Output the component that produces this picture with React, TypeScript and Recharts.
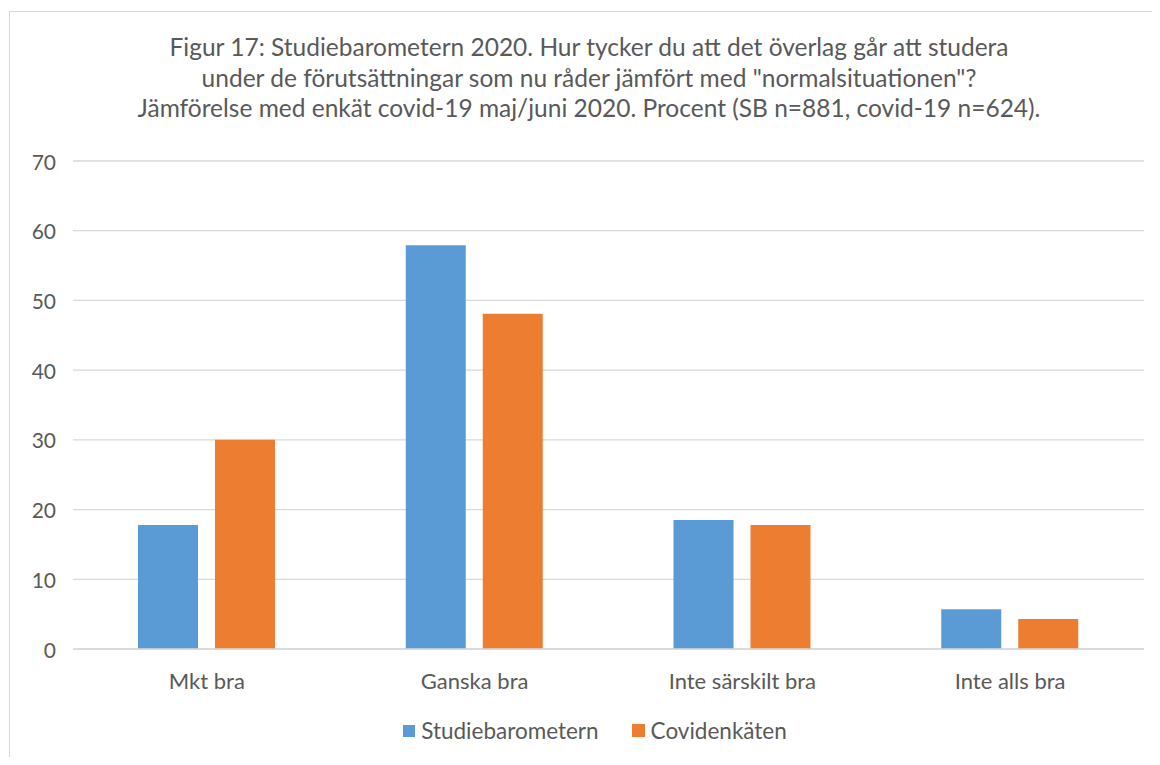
import { Bar, BarChart, CartesianGrid, XAxis, YAxis } from "recharts";

const categories = ["Mkt bra", "Ganska bra", "Inte särskilt bra", "Inte alls bra"];
const studiebarometern = [17.8, 57.9, 18.5, 5.7];
const covidenkaten = [30.0, 48.1, 17.8, 4.3];
const yTicks = [0, 10, 20, 30, 40, 50, 60, 70];

const titleLines = [
  "Figur 17: Studiebarometern 2020. Hur tycker du att det överlag går att studera",
  'under de förutsättningar som nu råder jämfört med "normalsituationen"?',
  "Jämförelse med enkät covid-19 maj/juni 2020. Procent (SB n=881, covid-19 n=624).",
];

const data = categories.map((name, i) => ({
  name,
  sb: studiebarometern[i],
  covid: covidenkaten[i],
}));

const FONT = "Lato, sans-serif";
const TEXT = "#595959";
const BLUE = "#5B9BD5";
const ORANGE = "#ED7D31";

// y tick label, right-aligned a little left of the plot
function YTick(props: any) {
  const { x, y, payload } = props;
  return (
    <text x={x} y={y} dx={6} textAnchor="end" dominantBaseline="central" fill={TEXT} fontSize={21} fontFamily={FONT}>
      {payload.value}
    </text>
  );
}

export default function App() {
  return (
    <div style={{ position: "relative", width: 1160, height: 765, margin: -8, background: "#fff", overflow: "hidden", fontFamily: FONT }}>
      <div
        style={{
          position: "absolute",
          left: 9,
          top: 11,
          width: 1170,
          height: 800,
          border: "1px solid #d9d9d9",
          boxSizing: "border-box",
        }}
      />
      <div
        style={{
          position: "absolute",
          left: 0,
          width: 1178,
          top: 32,
          textAlign: "center",
          color: TEXT,
          fontSize: 24.5,
          lineHeight: "30.5px",
        }}
      >
        {titleLines.map((t) => (
          <div key={t}>{t}</div>
        ))}
      </div>
      <div style={{ position: "absolute", left: 0, top: 0 }}>
        <BarChart
          width={1160}
          height={765}
          data={data}
          margin={{ top: 161, right: 16, bottom: 86, left: 0 }}
          barSize={60}
          barGap={17}
        >
          <CartesianGrid vertical={false} stroke="#d9d9d9" strokeWidth={1.3} />
          <XAxis
            dataKey="name"
            height={30}
            axisLine={{ stroke: "#d9d9d9", strokeWidth: 1.5 }}
            tickLine={false}
            tickMargin={18}
            tick={{ fill: TEXT, fontSize: 22, fontFamily: FONT }}
          />
          <YAxis
            width={73}
            domain={[0, 70]}
            ticks={yTicks}
            axisLine={false}
            tickLine={false}
            tickSize={0}
            tickMargin={23}
            tick={<YTick />}
          />
          <Bar dataKey="sb" name="Studiebarometern" fill={BLUE} isAnimationActive={false} />
          <Bar dataKey="covid" name="Covidenkäten" fill={ORANGE} isAnimationActive={false} />
        </BarChart>
      </div>
      <div
        style={{
          position: "absolute",
          top: 717,
          left: 0,
          width: 1160,
          display: "flex",
          justifyContent: "center",
          paddingLeft: 30,
          boxSizing: "border-box",
          color: TEXT,
          fontSize: 22.5,
          alignItems: "center",
        }}
      >
        <span style={{ width: 12, height: 12, background: BLUE, display: "inline-block", marginRight: 6 }} />
        <span>Studiebarometern</span>
        <span style={{ width: 13, height: 13, background: ORANGE, display: "inline-block", marginLeft: 33, marginRight: 6 }} />
        <span>Covidenkäten</span>
      </div>
    </div>
  );
}
